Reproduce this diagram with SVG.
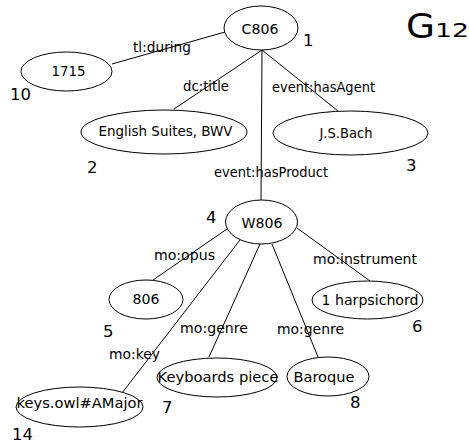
<svg xmlns="http://www.w3.org/2000/svg" width="469" height="444" viewBox="0 0 469 444">
  <style>
    .node ellipse { fill: #ffffff; stroke: #000000; stroke-width: 1; }
    .node text { font-family: "DejaVu Sans", sans-serif; font-size: 13.5px; fill: #000000; text-anchor: middle; }
    .node text.num { font-size: 16.5px; text-anchor: start; }
    .edges line { stroke: #000000; stroke-width: 1; }
    .edges text { font-family: "DejaVu Sans", sans-serif; font-size: 13.5px; fill: #000000; }
    .title { font-family: "DejaVu Sans", sans-serif; fill: #000000; }
  </style>

  <rect width="469" height="444" fill="#ffffff"/>

  <!-- graph title -->
  <g id="title">
    <text class="title" x="406" y="38" font-size="33" textLength="29" lengthAdjust="spacingAndGlyphs">G</text>
    <text class="title" x="435" y="37" font-size="20" textLength="34" lengthAdjust="spacingAndGlyphs">12</text>
  </g>

  <!-- connectors -->
  <g id="edges" class="edges">
    <line x1="225" y1="32" x2="112" y2="64"/>
    <line x1="262" y1="50" x2="174" y2="109"/>
    <line x1="262" y1="50" x2="338" y2="111"/>
    <line x1="262" y1="50" x2="261" y2="200"/>
    <line x1="227" y1="229" x2="153" y2="280"/>
    <line x1="240" y1="240" x2="122" y2="393"/>
    <line x1="260" y1="244" x2="209" y2="357"/>
    <line x1="272" y1="244" x2="318" y2="357"/>
    <line x1="297" y1="228" x2="370" y2="281"/>

    <text x="133" y="52" textLength="58" lengthAdjust="spacingAndGlyphs">tl:during</text>
    <text x="183" y="91" textLength="46" lengthAdjust="spacingAndGlyphs">dc:title</text>
    <text x="272" y="92" textLength="103" lengthAdjust="spacingAndGlyphs">event:hasAgent</text>
    <text x="214" y="177" textLength="114" lengthAdjust="spacingAndGlyphs">event:hasProduct</text>
    <text x="154" y="260" textLength="61" lengthAdjust="spacingAndGlyphs">mo:opus</text>
    <text x="313" y="264" textLength="104" lengthAdjust="spacingAndGlyphs">mo:instrument</text>
    <text x="109" y="359" textLength="51" lengthAdjust="spacingAndGlyphs">mo:key</text>
    <text x="180" y="333" textLength="68" lengthAdjust="spacingAndGlyphs">mo:genre</text>
    <text x="277" y="334" textLength="67" lengthAdjust="spacingAndGlyphs">mo:genre</text>
  </g>

  <!-- nodes -->
  <g id="n1" class="node">
    <ellipse cx="261" cy="28" rx="37" ry="22"/>
    <text x="260" y="34" textLength="37" lengthAdjust="spacingAndGlyphs">C806</text>
    <text class="num" x="303" y="46">1</text>
  </g>
  <g id="n10" class="node">
    <ellipse cx="66.5" cy="71.5" rx="45.5" ry="19.5"/>
    <text x="68.5" y="76" textLength="34" lengthAdjust="spacingAndGlyphs">1715</text>
    <text class="num" x="10" y="100">10</text>
  </g>
  <g id="n2" class="node">
    <ellipse cx="164" cy="132" rx="83" ry="22"/>
    <text x="165.5" y="136" textLength="134" lengthAdjust="spacingAndGlyphs">English Suites, BWV</text>
    <text class="num" x="87" y="173">2</text>
  </g>
  <g id="n3" class="node">
    <ellipse cx="350.5" cy="133" rx="77.5" ry="22"/>
    <text x="346" y="137.5" textLength="53" lengthAdjust="spacingAndGlyphs">J.S.Bach</text>
    <text class="num" x="406" y="171">3</text>
  </g>
  <g id="n4" class="node">
    <ellipse cx="261.5" cy="222" rx="36" ry="22"/>
    <text x="262" y="227.5" textLength="41" lengthAdjust="spacingAndGlyphs">W806</text>
    <text class="num" x="206" y="223">4</text>
  </g>
  <g id="n5" class="node">
    <ellipse cx="146" cy="299.5" rx="37" ry="19.5"/>
    <text x="146" y="304" textLength="27" lengthAdjust="spacingAndGlyphs">806</text>
    <text class="num" x="103" y="337">5</text>
  </g>
  <g id="n6" class="node">
    <ellipse cx="367.5" cy="300" rx="55.5" ry="19"/>
    <text x="370" y="305" textLength="97" lengthAdjust="spacingAndGlyphs">1 harpsichord</text>
    <text class="num" x="412" y="332">6</text>
  </g>
  <g id="n7" class="node">
    <ellipse cx="217" cy="377.5" rx="60" ry="19.5"/>
    <text x="218" y="381.5" textLength="121" lengthAdjust="spacingAndGlyphs">Keyboards piece</text>
    <text class="num" x="162" y="413">7</text>
  </g>
  <g id="n8" class="node">
    <ellipse cx="328" cy="376.5" rx="41" ry="19.5"/>
    <text x="324" y="381.5" textLength="61" lengthAdjust="spacingAndGlyphs">Baroque</text>
    <text class="num" x="350" y="408">8</text>
  </g>
  <g id="n14" class="node">
    <ellipse cx="79.5" cy="407" rx="63.5" ry="20"/>
    <text x="79.5" y="408" textLength="126" lengthAdjust="spacingAndGlyphs">keys.owl#AMajor</text>
    <text class="num" x="12" y="440">14</text>
  </g>
</svg>
